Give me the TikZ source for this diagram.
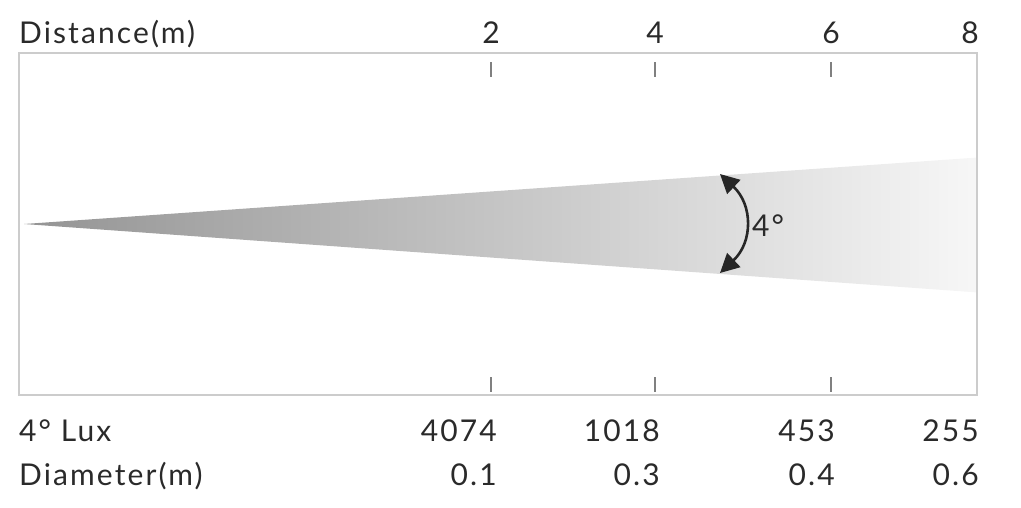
\documentclass[tikz,border=0pt]{standalone}
\usepackage{fontspec}
\setmainfont{Lato}[LetterSpace=7]
\usetikzlibrary{arrows.meta}
\definecolor{txt}{HTML}{2A2A2A}
\definecolor{frame}{HTML}{CCCCCC}
\definecolor{tick}{HTML}{808080}
\begin{document}
\begin{tikzpicture}[x=1pt,y=-1pt,
  lbl/.style={font=\fontsize{30}{34}\selectfont, text=txt, inner sep=0pt},
  tickline/.style={draw=tick, line width=2pt},
  arcarrow/.style={draw=black!85, line width=2.6pt, {Triangle[length=19pt,width=19pt]}-{Triangle[length=19pt,width=19pt]}}]
\useasboundingbox (0,0) rectangle (1021,507);
% beam
\begin{scope}
\clip (19,53) rectangle (977,395);
\shade[left color=black!42, right color=black!3, shading angle=90] (24,224) -- (985,157) -- (985,293) -- cycle;
\end{scope}
% frame
\draw[frame, line width=2pt] (19,53) rectangle (977,395);
% ticks
\foreach \x in {491,655,831} {
  \draw[tickline] (\x,62) -- (\x,77);
  \draw[tickline] (\x,377) -- (\x,392);
}
% top labels
\node[lbl, anchor=base west] (dist) at (19,43) {Distance(m)};
\node[lbl, anchor=base] (d2) at (491,43) {2};
\node[lbl, anchor=base] (d4) at (655,43) {4};
\node[lbl, anchor=base] (d6) at (831,43) {6};
\node[lbl, anchor=base] (d8) at (970,43) {8};
% angle
\coordinate (atop) at (720,174);
\coordinate (abot) at (720,273);
\draw[arcarrow] (atop) .. controls (753,205) and (753,242) .. (abot);
\node[lbl, anchor=west] (ang) at (752,226) {4°};
% bottom labels
\node[lbl, anchor=base west] (lux) at (19,441) {4° Lux};
\node[lbl, anchor=base east] (l2) at (497,441) {4074};
\node[lbl, anchor=base east] (l4) at (660,441) {1018};
\node[lbl, anchor=base east] (l6) at (835,441) {453};
\node[lbl, anchor=base east] (l8) at (979,441) {255};
\node[lbl, anchor=base west] (dia) at (19,485) {Diameter(m)};
\node[lbl, anchor=base east] (m2) at (497,485) {0.1};
\node[lbl, anchor=base east] (m4) at (660,485) {0.3};
\node[lbl, anchor=base east] (m6) at (835,485) {0.4};
\node[lbl, anchor=base east] (m8) at (979,485) {0.6};
\end{tikzpicture}
\end{document}
